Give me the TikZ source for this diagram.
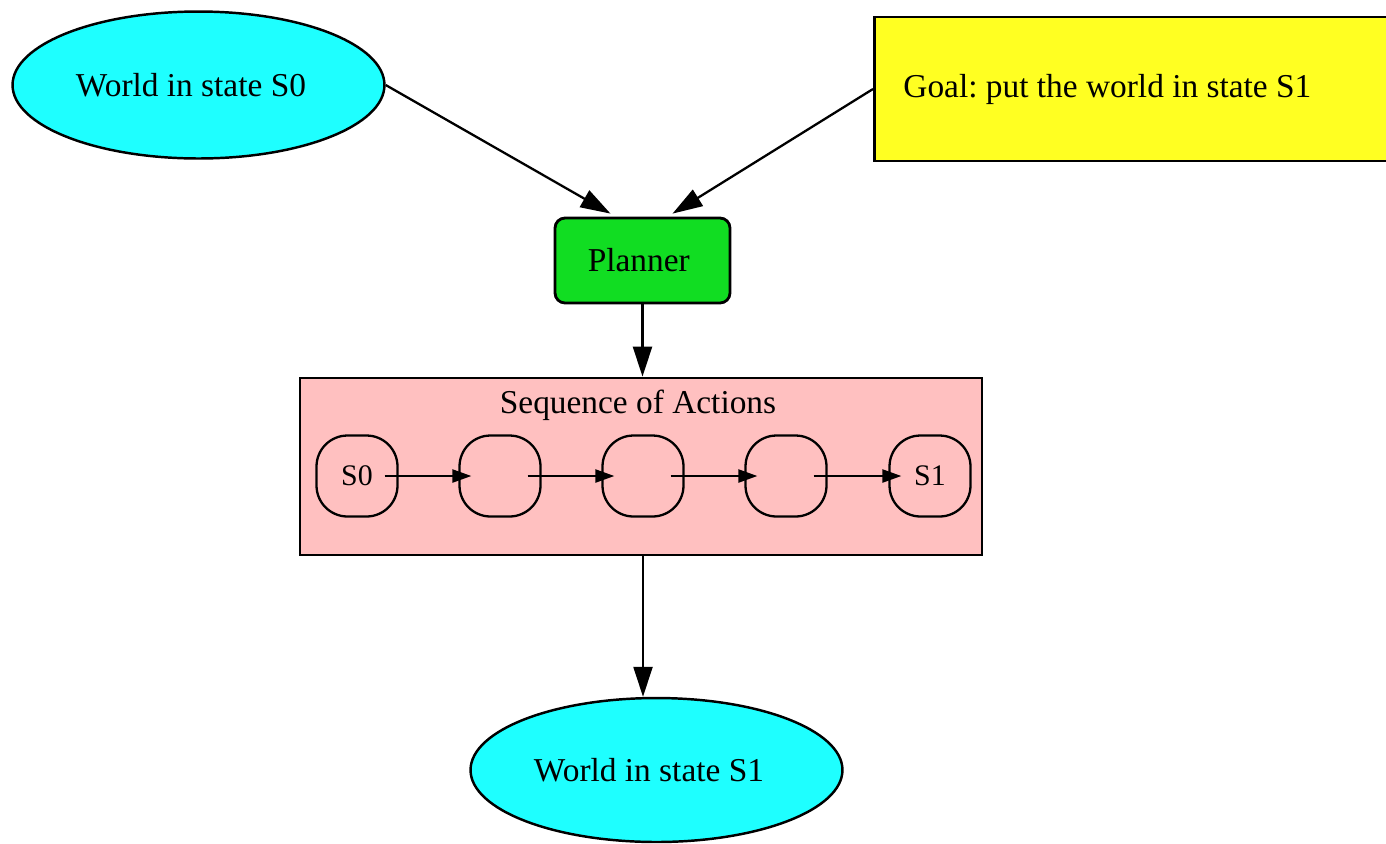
\documentclass[tikz,border=0pt]{standalone}
\usepackage{fontspec}
\setmainfont{Liberation Serif}
\usetikzlibrary{shapes.geometric,arrows.meta,calc}
\definecolor{worldcyan}{HTML}{1EFFFF}
\definecolor{goalyellow}{HTML}{FFFF22}
\definecolor{plangreen}{HTML}{11DD22}
\definecolor{seqpink}{HTML}{FFC0C0}
\begin{document}
\frenchspacing
\begin{tikzpicture}[x=0.02cm,y=-0.02cm,
  every node/.style={font=\fontsize{19}{23}\selectfont},
  world/.style={ellipse, draw, fill=worldcyan, line width=1.4pt,
    minimum width=7.44cm, minimum height=2.94cm, inner sep=0pt},
  goalbox/.style={rectangle, draw, fill=goalyellow, line width=1.6pt,
    minimum height=2.88cm, text width=9.4cm, inner xsep=0.58cm, align=flush left},
  planbox/.style={rectangle, draw, fill=plangreen, line width=1.6pt,
    rounded corners=0.2cm, minimum width=3.5cm, minimum height=1.7cm},
  cluster/.style={rectangle, draw, fill=seqpink, line width=1.6pt,
    minimum width=13.64cm, minimum height=3.54cm},
  stepstate/.style={rectangle, draw, line width=1.3pt, rounded corners=0.62cm,
    minimum width=1.62cm, minimum height=1.62cm, inner sep=0pt,
    font=\fontsize{17}{20}\selectfont},
  flow/.style={line width=1.3pt, -{Triangle[length=0.6cm,width=0.38cm]}},
  chain/.style={line width=1.3pt, -{Triangle[length=0.38cm,width=0.26cm]},
    shorten <=-0.28cm, shorten >=-0.26cm}]
\useasboundingbox (0,0) rectangle (1386,843);
\clip (0,0) rectangle (1386,843);

% inputs to the planner
\node[world] (s0) at (198.5,85) {World in state S0\hspace*{0.3cm}};
\node[goalbox, anchor=west] (goal) at (873,89) {Goal: put the world in state S1};
\node[planbox] (planner) at (642.5,260.5) {\raisebox{-3pt}{Planner}\hspace*{0.15cm}};

% planned sequence of actions
\node[cluster] (seq) at (641,466.5) {};
\node (seqtitle) at (638,405) {Sequence of Actions};
\node[stepstate] (c1) at (357,476) {S0};
\node[stepstate] (c2) at (500,476) {};
\node[stepstate] (c3) at (643,476) {};
\node[stepstate] (c4) at (786,476) {};
\node[stepstate] (c5) at (930,476) {S1};

% resulting world
\node[world, minimum height=2.88cm] (s1) at (656.5,770) {World in state S1\hspace*{0.3cm}};

% connectors
\draw[flow] (s0.east) -- ($(planner.north)+(-32,-3)$);
\draw[flow] (goal.west) -- ($(planner.north)+(30,-3)$);
\draw[flow] (planner.south) -- (planner.south |- seq.north);
\draw[flow] (seq.south -| c3) -- (c3 |- s1.north);
\draw[chain] (c1) -- (c2);
\draw[chain] (c2) -- (c3);
\draw[chain] (c3) -- (c4);
\draw[chain] (c4) -- (c5);
\end{tikzpicture}
\end{document}
